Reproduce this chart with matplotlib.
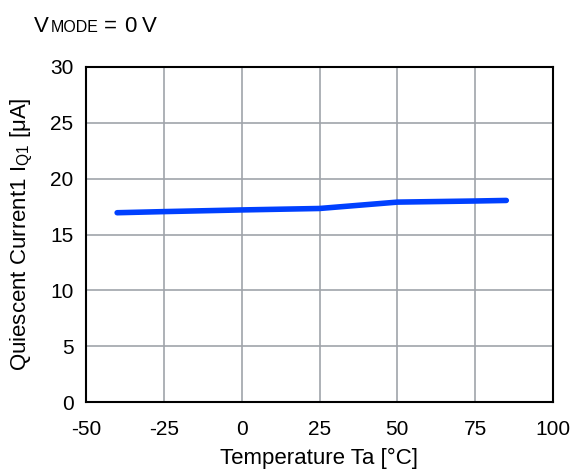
import matplotlib
matplotlib.use("Agg")
import matplotlib.pyplot as plt

plt.rcParams['font.family'] = ['Liberation Sans', 'DejaVu Sans']
plt.rcParams['mathtext.fontset'] = 'custom'
plt.rcParams['mathtext.rm'] = 'Liberation Sans'
plt.rcParams['mathtext.it'] = 'Liberation Sans'
plt.rcParams['axes.unicode_minus'] = False

temps = [-40, -25, 0, 25, 50, 75, 85]
iq1 = [16.95, 17.05, 17.2, 17.33, 17.9, 18.0, 18.05]
xticks = [-50, -25, 0, 25, 50, 75, 100]
yticks = [0, 5, 10, 15, 20, 25, 30]

fig = plt.figure(figsize=(5.75, 4.72), dpi=100)
ax = fig.add_axes([86/575, 1-402/472, (553-86)/575, (402-67)/472])
ax.plot(temps, iq1, color='#0040FF', lw=4, solid_capstyle='round', zorder=3)
ax.set_xlim(-50, 100)
ax.set_ylim(0, 30)
ax.set_xticks(xticks)
ax.set_yticks(yticks)
ax.grid(True, color='#A0A4AA', lw=1.2)
ax.tick_params(length=0, labelsize=15, colors='black')
ax.tick_params(axis='x', pad=13)
ax.tick_params(axis='y', pad=9)
for s in ax.spines.values():
    s.set_linewidth(1.5)
    s.set_color('black')
ax.set_xlabel('Temperature Ta [°C]', fontsize=16, labelpad=6)
ax.set_ylabel('Quiescent Current1 I$_{\\mathrm{Q1}}$ [μA]', fontsize=16, labelpad=11)

base = 1 - 31.5/472
fig.text(34/575, base, 'V', fontsize=16, va='baseline')
fig.text(51/575, base, 'MODE', fontsize=11.5, va='baseline')
fig.text(104/575, base, '=', fontsize=16, va='baseline')
fig.text(124/575, base, '0', fontsize=16, va='baseline')
fig.text(142/575, base, 'V', fontsize=16, va='baseline')

fig.savefig('out.png', dpi=100)
